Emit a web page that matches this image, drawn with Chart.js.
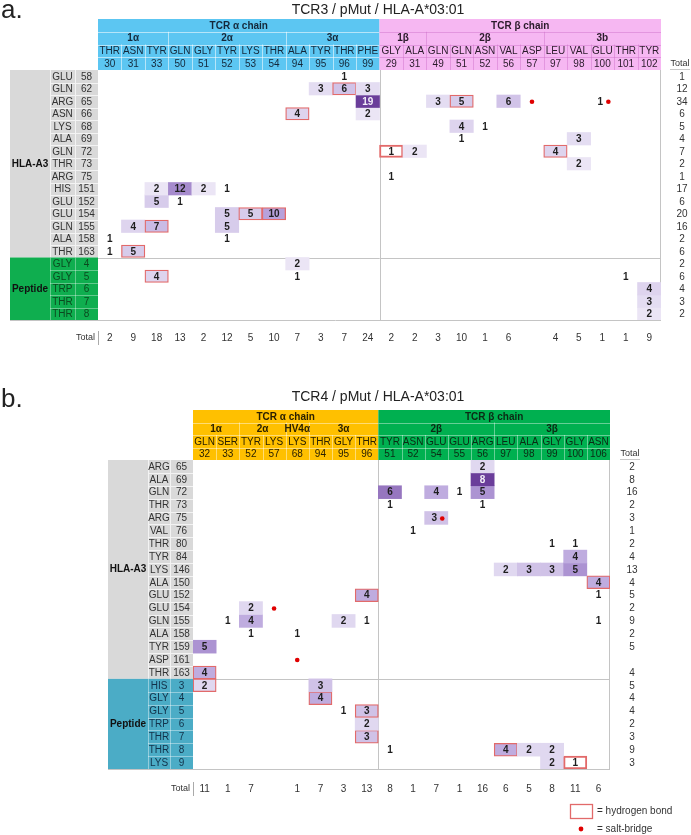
<!DOCTYPE html>
<html><head><meta charset="utf-8">
<script src="https://cdn.jsdelivr.net/npm/chart.js@4.4.1/dist/chart.umd.min.js"></script>
<style>
html,body{margin:0;padding:0;background:#fff;width:691px;height:835px;overflow:hidden}
canvas{position:absolute;left:0}
#ca{top:0}#cb{top:385px}
</style></head>
<body>
<canvas id="ca" width="691" height="385"></canvas>
<canvas id="cb" width="691" height="450"></canvas>
<script>
// ---------- Panel a : TCR3 ----------
const tcr3Title = 'TCR3 / pMut / HLA-A*03:01';
const tcr3AlphaResidues = ['THR','ASN','TYR','GLN','GLY','TYR','LYS','THR','ALA','TYR','THR','PHE'];
const tcr3AlphaNumbers = [30,31,33,50,51,52,53,54,94,95,96,99];
const tcr3AlphaLoops = [['1α',3],['2α',5],['3α',4]];
const tcr3BetaResidues = ['GLY','ALA','GLN','GLN','ASN','VAL','ASP','LEU','VAL','GLU','THR','TYR'];
const tcr3BetaNumbers = [29,31,49,51,52,56,57,97,98,100,101,102];
const tcr3BetaLoops = [['1β',2],['2β',5],['3b',5]];
const tcr3HlaResidues = ['GLU','GLN','ARG','ASN','LYS','ALA','GLN','THR','ARG','HIS','GLU','GLU','GLN','ALA','THR'];
const tcr3HlaNumbers = [58,62,65,66,68,69,72,73,75,151,152,154,155,158,163];
const tcr3PeptideResidues = ['GLY','GLY','TRP','THR','THR'];
const tcr3PeptideNumbers = [4,5,6,7,8];
const tcr3Contacts = [
  [0,0,0,0,0,0,0,0,0,0,1,0,  0,0,0,0,0,0,0,0,0,0,0,0],
  [0,0,0,0,0,0,0,0,0,3,6,3,  0,0,0,0,0,0,0,0,0,0,0,0],
  [0,0,0,0,0,0,0,0,0,0,0,19, 0,0,3,5,0,6,0,0,0,1,0,0],
  [0,0,0,0,0,0,0,0,4,0,0,2,  0,0,0,0,0,0,0,0,0,0,0,0],
  [0,0,0,0,0,0,0,0,0,0,0,0,  0,0,0,4,1,0,0,0,0,0,0,0],
  [0,0,0,0,0,0,0,0,0,0,0,0,  0,0,0,1,0,0,0,0,3,0,0,0],
  [0,0,0,0,0,0,0,0,0,0,0,0,  1,2,0,0,0,0,0,4,0,0,0,0],
  [0,0,0,0,0,0,0,0,0,0,0,0,  0,0,0,0,0,0,0,0,2,0,0,0],
  [0,0,0,0,0,0,0,0,0,0,0,0,  1,0,0,0,0,0,0,0,0,0,0,0],
  [0,0,2,12,2,1,0,0,0,0,0,0, 0,0,0,0,0,0,0,0,0,0,0,0],
  [0,0,5,1,0,0,0,0,0,0,0,0,  0,0,0,0,0,0,0,0,0,0,0,0],
  [0,0,0,0,0,5,5,10,0,0,0,0, 0,0,0,0,0,0,0,0,0,0,0,0],
  [0,4,7,0,0,5,0,0,0,0,0,0,  0,0,0,0,0,0,0,0,0,0,0,0],
  [1,0,0,0,0,1,0,0,0,0,0,0,  0,0,0,0,0,0,0,0,0,0,0,0],
  [1,5,0,0,0,0,0,0,0,0,0,0,  0,0,0,0,0,0,0,0,0,0,0,0],
  [0,0,0,0,0,0,0,0,2,0,0,0,  0,0,0,0,0,0,0,0,0,0,0,0],
  [0,0,4,0,0,0,0,0,1,0,0,0,  0,0,0,0,0,0,0,0,0,0,1,0],
  [0,0,0,0,0,0,0,0,0,0,0,0,  0,0,0,0,0,0,0,0,0,0,0,4],
  [0,0,0,0,0,0,0,0,0,0,0,0,  0,0,0,0,0,0,0,0,0,0,0,3],
  [0,0,0,0,0,0,0,0,0,0,0,0,  0,0,0,0,0,0,0,0,0,0,0,2]
];
const tcr3HydrogenBonds = [[1,10],[2,15],[3,8],[6,12],[6,19],[11,6],[11,7],[12,2],[14,1],[16,2]];
const tcr3SaltBridges = [[2,18],[2,21]];
const tcr3RowTotals = [1,12,34,6,5,4,7,2,1,17,6,20,16,2,6,2,6,4,3,2];
const tcr3ColumnTotals = [2,9,18,13,2,12,5,10,7,3,7,24,2,2,3,10,1,6,'',4,5,1,1,9];

// ---------- Panel b : TCR4 ----------
const tcr4Title = 'TCR4 / pMut / HLA-A*03:01';
const tcr4AlphaResidues = ['GLN','SER','TYR','LYS','LYS','THR','GLY','THR'];
const tcr4AlphaNumbers = [32,33,52,57,68,94,95,96];
const tcr4AlphaLoops = [['1α',2],['2α',2],['HV4α',1],['3α',3]];
const tcr4BetaResidues = ['TYR','ASN','GLU','GLU','ARG','LEU','ALA','GLY','GLY','ASN'];
const tcr4BetaNumbers = [51,52,54,55,56,97,98,99,100,106];
const tcr4BetaLoops = [['2β',5],['3β',5]];
const tcr4HlaResidues = ['ARG','ALA','GLN','THR','ARG','VAL','THR','TYR','LYS','ALA','GLU','GLU','GLN','ALA','TYR','ASP','THR'];
const tcr4HlaNumbers = [65,69,72,73,75,76,80,84,146,150,152,154,155,158,159,161,163];
const tcr4PeptideResidues = ['HIS','GLY','GLY','TRP','THR','THR','LYS'];
const tcr4PeptideNumbers = [3,4,5,6,7,8,9];
const tcr4Contacts = [
  [0,0,0,0,0,0,0,0, 0,0,0,0,2,0,0,0,0,0],
  [0,0,0,0,0,0,0,0, 0,0,0,0,8,0,0,0,0,0],
  [0,0,0,0,0,0,0,0, 6,0,4,1,5,0,0,0,0,0],
  [0,0,0,0,0,0,0,0, 1,0,0,0,1,0,0,0,0,0],
  [0,0,0,0,0,0,0,0, 0,0,3,0,0,0,0,0,0,0],
  [0,0,0,0,0,0,0,0, 0,1,0,0,0,0,0,0,0,0],
  [0,0,0,0,0,0,0,0, 0,0,0,0,0,0,0,1,1,0],
  [0,0,0,0,0,0,0,0, 0,0,0,0,0,0,0,0,4,0],
  [0,0,0,0,0,0,0,0, 0,0,0,0,0,2,3,3,5,0],
  [0,0,0,0,0,0,0,0, 0,0,0,0,0,0,0,0,0,4],
  [0,0,0,0,0,0,0,4, 0,0,0,0,0,0,0,0,0,1],
  [0,0,2,0,0,0,0,0, 0,0,0,0,0,0,0,0,0,0],
  [0,1,4,0,0,0,2,1, 0,0,0,0,0,0,0,0,0,1],
  [0,0,1,0,1,0,0,0, 0,0,0,0,0,0,0,0,0,0],
  [5,0,0,0,0,0,0,0, 0,0,0,0,0,0,0,0,0,0],
  [0,0,0,0,0,0,0,0, 0,0,0,0,0,0,0,0,0,0],
  [4,0,0,0,0,0,0,0, 0,0,0,0,0,0,0,0,0,0],
  [2,0,0,0,0,3,0,0, 0,0,0,0,0,0,0,0,0,0],
  [0,0,0,0,0,4,0,0, 0,0,0,0,0,0,0,0,0,0],
  [0,0,0,0,0,0,1,3, 0,0,0,0,0,0,0,0,0,0],
  [0,0,0,0,0,0,0,2, 0,0,0,0,0,0,0,0,0,0],
  [0,0,0,0,0,0,0,3, 0,0,0,0,0,0,0,0,0,0],
  [0,0,0,0,0,0,0,0, 1,0,0,0,0,4,2,2,0,0],
  [0,0,0,0,0,0,0,0, 0,0,0,0,0,0,0,2,1,0]
];
const tcr4HydrogenBonds = [[9,17],[10,7],[16,0],[17,0],[18,5],[19,7],[21,7],[22,13],[23,16]];
const tcr4SaltBridges = [[4,10],[11,3],[15,4]];
const tcr4RowTotals = [2,8,16,2,3,1,2,4,13,4,5,2,9,2,5,'',4,5,4,4,2,3,9,3];
const tcr4ColumnTotals = [11,1,7,'',1,7,3,13,8,1,7,1,16,6,5,8,11,6];

// ---------- rendering ----------
const FONT = '"Liberation Sans", Arial, sans-serif';
function lerp(a,b,t){return a.map((v,i)=>Math.round(v+(b[i]-v)*t));}
function shade(t){
  const s0=[241,238,248], s1=[183,161,219], s2=[106,61,154];
  const c = t<0.5 ? lerp(s0,s1,t/0.5) : lerp(s1,s2,(t-0.5)/0.5);
  return 'rgb('+c.join(',')+')';
}

function buildPanel(canvasId, P){
  const cols = P.alphaRes.concat(P.betaRes);
  const nums = P.alphaNum.concat(P.betaNum);
  const rowRes = P.hlaRes.concat(P.pepRes);
  const rowNum = P.hlaNum.concat(P.pepNum);
  const nR = rowRes.length, nC = cols.length, nA = P.alphaRes.length, nH = P.hlaRes.length;
  const maxV = Math.max(...P.contacts.flat());
  const key=(r,c)=>r+','+c;
  const hb = new Set(P.hb.map(([r,c])=>key(r,c)));
  const sb = new Set(P.sb.map(([r,c])=>key(r,c)));
  const tOf = v => (v-1)/(maxV-1);

  const datasets = P.contacts.map((row,r)=>({
    data: row.map((v,c)=> (v>=2 || hb.has(key(r,c))) ? [r, r+1] : null),
    backgroundColor: row.map(v=> v>=2 ? shade(tOf(v)) : 'rgba(0,0,0,0)'),
    borderColor: row.map((v,c)=> hb.has(key(r,c)) ? '#e26a6a' : 'rgba(0,0,0,0)'),
    borderWidth: row.map((v,c)=> hb.has(key(r,c)) ? 1.3 : 0),
    borderSkipped:false, barPercentage:1, categoryPercentage:1, grouped:false
  }));

  const canvas = document.getElementById(canvasId);
  const W = canvas.width, H = canvas.height;

  const plugin = {
    id:'tableDecor'+canvasId,
    beforeDatasetsDraw(chart){
      const ctx=chart.ctx, xs=chart.scales.x, ys=chart.scales.y, ca=chart.chartArea;
      const cw=(ca.right-ca.left)/nC;
      const cl=j=> j>=nC ? ca.right : xs.getPixelForValue(j)-cw/2;
      const cx=j=> xs.getPixelForValue(j);
      const ry=r=> ys.getPixelForValue(r);
      ctx.save();
      ctx.fillStyle='#222';
      ctx.font='26px '+FONT; ctx.textAlign='left'; ctx.textBaseline='alphabetic';
      ctx.fillText(P.letter, 1, P.letterY);
      ctx.font='14px '+FONT; ctx.textAlign='center'; ctx.textBaseline='middle';
      ctx.fillText(P.title, P.titleX, P.titleY);

      const y0=P.headerTop, hh=(ca.top-y0)/4;
      const chains=[[0,nA,P.alphaColor,P.alphaLine,P.alphaText,'TCR α chain',P.alphaLoops],
                    [nA,nC,P.betaColor,P.betaLine,P.betaText,'TCR β chain',P.betaLoops]];
      chains.forEach(([a,b,col,line,txt,label,loops])=>{
        const L=cl(a), R=cl(b);
        ctx.fillStyle=col; ctx.fillRect(L,y0,R-L,ca.top-y0);
        ctx.strokeStyle=line; ctx.lineWidth=1;
        ctx.beginPath();
        for(let k=1;k<4;k++){ ctx.moveTo(L,Math.round(y0+k*hh)+0.5); ctx.lineTo(R,Math.round(y0+k*hh)+0.5); }
        let s=a;
        loops.forEach(([nm,cnt],i)=>{ if(i>0){ const x=Math.round(cl(s))+0.5; ctx.moveTo(x,y0+hh); ctx.lineTo(x,y0+2*hh);} s+=cnt; });
        for(let j=a+1;j<b;j++){ const x=Math.round(cl(j))+0.5; ctx.moveTo(x,y0+2*hh); ctx.lineTo(x,ca.top); }
        ctx.stroke();
        ctx.fillStyle=txt; ctx.textAlign='center'; ctx.textBaseline='middle';
        ctx.font='bold 10px '+FONT;
        ctx.fillText(label,(L+R)/2,y0+hh/2+0.5);
        s=a;
        loops.forEach(([nm,cnt])=>{ ctx.fillText(nm,(cl(s)+cl(s+cnt))/2,y0+1.5*hh+0.5); s+=cnt; });
        ctx.font='10px '+FONT;
        for(let j=a;j<b;j++){
          ctx.fillText(cols[j],cx(j),y0+2.5*hh+0.5);
          ctx.fillText(String(nums[j]),cx(j),y0+3.5*hh+0.5);
        }
      });

      const LL=P.labelLeft, x0=LL+P.groupW, x1=x0+P.nameW, LR=ca.left;
      const blocks=[[0,nH,P.hlaColor,P.hlaLine,P.hlaText,'HLA-A3'],[nH,nR,P.pepColor,P.pepLine,P.pepText,'Peptide']];
      blocks.forEach(([a,b,col,line,txt,label])=>{
        const T=ry(a), B=ry(b);
        ctx.fillStyle=col; ctx.fillRect(LL,T,LR-LL,B-T);
        ctx.strokeStyle=line; ctx.lineWidth=1; ctx.beginPath();
        for(let r=a+1;r<b;r++){ const y=Math.round(ry(r))+0.5; ctx.moveTo(x0,y); ctx.lineTo(LR,y); }
        ctx.moveTo(Math.round(x0)+0.5,T); ctx.lineTo(Math.round(x0)+0.5,B);
        ctx.moveTo(Math.round(x1)+0.5,T); ctx.lineTo(Math.round(x1)+0.5,B);
        ctx.stroke();
        ctx.fillStyle='#111'; ctx.font='bold 10px '+FONT; ctx.textAlign='center'; ctx.textBaseline='middle';
        ctx.fillText(label,(LL+x0)/2,(T+B)/2);
        ctx.fillStyle=txt; ctx.font='10px '+FONT;
        for(let r=a;r<b;r++){
          const yc=(ry(r)+ry(r+1))/2+0.5;
          ctx.fillText(rowRes[r],(x0+x1)/2,yc);
          ctx.fillText(String(rowNum[r]),(x1+LR)/2,yc);
        }
      });

      ctx.strokeStyle='#c4c4c4'; ctx.lineWidth=1; ctx.beginPath();
      const yH=Math.round(ry(nH))+0.5;
      ctx.moveTo(ca.left,yH); ctx.lineTo(ca.right,yH);
      const xA=Math.round(cl(nA))+0.5;
      ctx.moveTo(xA,ca.top); ctx.lineTo(xA,ca.bottom);
      ctx.moveTo(Math.round(ca.right)-0.5,ca.top); ctx.lineTo(Math.round(ca.right)-0.5,ca.bottom);
      ctx.moveTo(LL,Math.round(ca.bottom)+0.5); ctx.lineTo(ca.right,Math.round(ca.bottom)+0.5);
      ctx.stroke();

      // totals column
      ctx.fillStyle='#333'; ctx.textAlign='center'; ctx.textBaseline='middle';
      ctx.font='9px '+FONT;
      ctx.fillText('Total',P.totalX-2,ca.top-hh/2);
      ctx.strokeStyle='#c8c8c8'; ctx.beginPath();
      ctx.moveTo(P.totalX-12,Math.round(ca.top)-0.5); ctx.lineTo(P.totalX+8,Math.round(ca.top)-0.5); ctx.stroke();
      ctx.font='10px '+FONT;
      for(let r=0;r<nR;r++){
        ctx.fillText(String(P.rowTotals[r]),P.totalX,(ry(r)+ry(r+1))/2+0.5);
      }
      // totals row
      const ty=ca.bottom+P.totalRowGap;
      ctx.font='9px '+FONT;
      ctx.textAlign='right'; ctx.fillText('Total',ca.left-3,ty);
      ctx.strokeStyle='#aaa'; ctx.beginPath();
      ctx.moveTo(Math.round(ca.left)+0.5,ty-7); ctx.lineTo(Math.round(ca.left)+0.5,ty+7); ctx.stroke();
      ctx.textAlign='center'; ctx.font='10px '+FONT;
      for(let j=0;j<nC;j++) ctx.fillText(String(P.colTotals[j]),cx(j),ty);

      if(P.legend){
        const g=P.legend;
        ctx.strokeStyle='#e26a6a'; ctx.lineWidth=1.3;
        ctx.strokeRect(g.x+0.5,g.y+0.5,22,14);
        ctx.fillStyle='#333'; ctx.textAlign='left'; ctx.textBaseline='middle'; ctx.font='10px '+FONT;
        ctx.fillText('= hydrogen bond',g.x+27,g.y+7.5);
        ctx.fillStyle='#e00000'; ctx.beginPath(); ctx.arc(g.x+11,g.y+25,2.4,0,Math.PI*2); ctx.fill();
        ctx.fillStyle='#333'; ctx.fillText('= salt-bridge',g.x+27,g.y+25.5);
      }
      ctx.restore();
    },
    afterDatasetsDraw(chart){
      const ctx=chart.ctx, xs=chart.scales.x, ys=chart.scales.y;
      ctx.save();
      ctx.textAlign='center'; ctx.textBaseline='middle'; ctx.font='bold 10px '+FONT;
      for(let r=0;r<nR;r++){
        const yc=(ys.getPixelForValue(r)+ys.getPixelForValue(r+1))/2;
        for(let c=0;c<nC;c++){
          const v=P.contacts[r][c]; const xc=xs.getPixelForValue(c);
          const isSb=sb.has(key(r,c));
          if(v>0){
            ctx.fillStyle = (v>=2 && tOf(v)>0.8) ? '#f2eef8' : '#1e1e1e';
            ctx.fillText(String(v), isSb ? xc-2 : xc, yc+0.5);
          }
          if(isSb){
            ctx.fillStyle='#e00000'; ctx.beginPath();
            ctx.arc(v>0 ? xc+6 : xc, yc+0.5, 2.3, 0, Math.PI*2); ctx.fill();
          }
        }
      }
      ctx.restore();
    }
  };

  return new Chart(canvas, {
    type:'bar',
    data:{ labels: cols.map((c,i)=>c+' '+nums[i]), datasets },
    options:{
      responsive:false, animation:false, events:[],
      layout:{padding:{left:P.area.left, right:W-P.area.right, top:P.area.top, bottom:H-P.area.bottom}},
      plugins:{legend:{display:false}, tooltip:{enabled:false}},
      scales:{
        x:{type:'category', display:false, offset:true, grid:{display:false}},
        y:{type:'linear', min:0, max:nR, reverse:true, display:false, grid:{display:false}}
      }
    },
    plugins:[plugin]
  });
}

buildPanel('ca', {
  letter:'a.', letterY:18, title:tcr3Title, titleX:378, titleY:10,
  alphaRes:tcr3AlphaResidues, alphaNum:tcr3AlphaNumbers, alphaLoops:tcr3AlphaLoops,
  betaRes:tcr3BetaResidues, betaNum:tcr3BetaNumbers, betaLoops:tcr3BetaLoops,
  hlaRes:tcr3HlaResidues, hlaNum:tcr3HlaNumbers, pepRes:tcr3PeptideResidues, pepNum:tcr3PeptideNumbers,
  contacts:tcr3Contacts, hb:tcr3HydrogenBonds, sb:tcr3SaltBridges,
  rowTotals:tcr3RowTotals, colTotals:tcr3ColumnTotals,
  area:{left:98,right:661,top:70,bottom:320}, headerTop:19,
  labelLeft:10, groupW:40, nameW:25, totalX:682, totalRowGap:18,
  alphaColor:'#5cc6f2', alphaLine:'rgba(255,255,255,0.55)', alphaText:'#14283a',
  betaColor:'#f6b7f2', betaLine:'rgba(205,110,200,0.45)', betaText:'#2a1a2a',
  hlaColor:'#d9d9d9', hlaLine:'#f3f3f3', hlaText:'#333',
  pepColor:'#0fae4f', pepLine:'rgba(255,255,255,0.35)', pepText:'#0b4a1f',
  legend:null
});

buildPanel('cb', {
  letter:'b.', letterY:22, title:tcr4Title, titleX:378, titleY:12,
  alphaRes:tcr4AlphaResidues, alphaNum:tcr4AlphaNumbers, alphaLoops:tcr4AlphaLoops,
  betaRes:tcr4BetaResidues, betaNum:tcr4BetaNumbers, betaLoops:tcr4BetaLoops,
  hlaRes:tcr4HlaResidues, hlaNum:tcr4HlaNumbers, pepRes:tcr4PeptideResidues, pepNum:tcr4PeptideNumbers,
  contacts:tcr4Contacts, hb:tcr4HydrogenBonds, sb:tcr4SaltBridges,
  rowTotals:tcr4RowTotals, colTotals:tcr4ColumnTotals,
  area:{left:193,right:610,top:75,bottom:384}, headerTop:25,
  labelLeft:108, groupW:40, nameW:22, totalX:632, totalRowGap:20,
  alphaColor:'#ffc000', alphaLine:'rgba(255,255,255,0.45)', alphaText:'#2a2000',
  betaColor:'#00b050', betaLine:'rgba(255,255,255,0.4)', betaText:'#0b2a14',
  hlaColor:'#d9d9d9', hlaLine:'#f3f3f3', hlaText:'#333',
  pepColor:'#4bacc6', pepLine:'rgba(255,255,255,0.4)', pepText:'#12324a',
  legend:{x:570,y:419}
});
</script>
</body></html>
